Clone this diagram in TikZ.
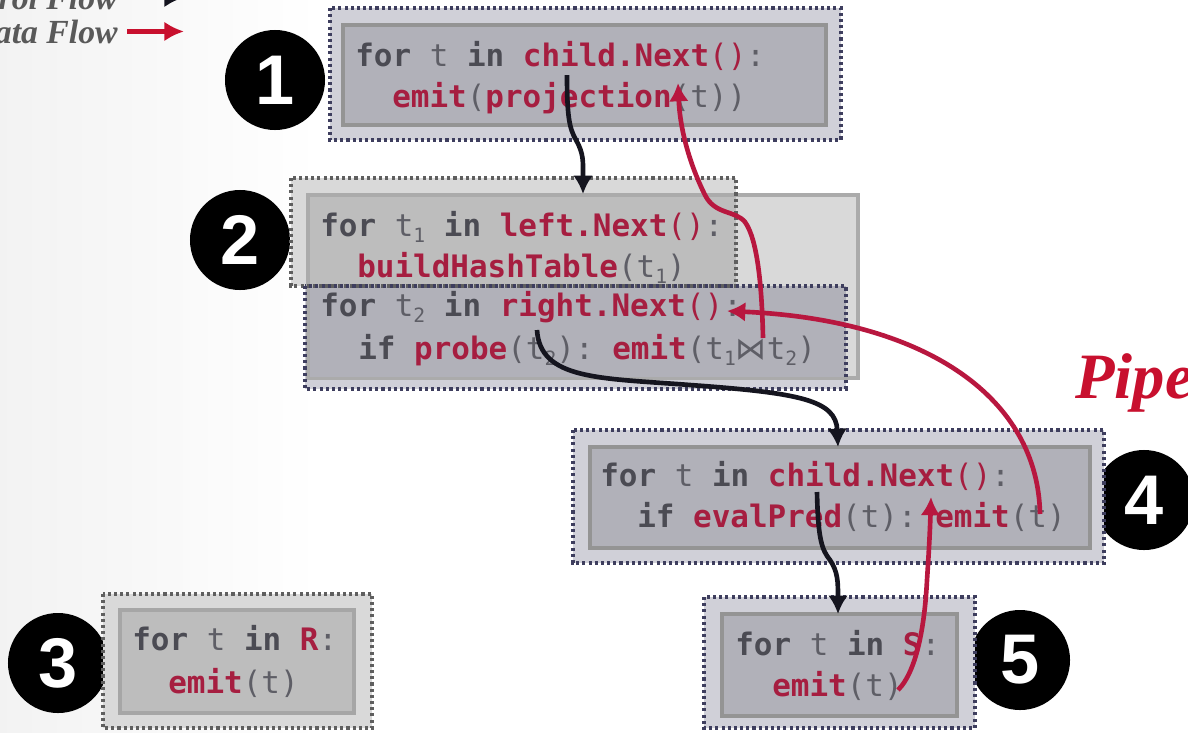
\documentclass[tikz,border=0pt]{standalone}
\usepackage{fontspec}
\setmonofont{DejaVu Sans Mono}
\newfontfamily\digitfont{Liberation Sans}
\newfontfamily\symfont{DejaVu Sans}
\newfontfamily\slidefont{Liberation Serif}
\usetikzlibrary{arrows.meta}

\definecolor{kwgray}{HTML}{4B4B53}
\definecolor{vargray}{HTML}{5E5E66}
\definecolor{fnred}{HTML}{A61E40}
\definecolor{flowred}{HTML}{B8173F}
\definecolor{flowblack}{HTML}{15151F}
\definecolor{legred}{HTML}{C8102E}
\definecolor{lavout}{HTML}{D0D0D8}
\definecolor{lavin}{HTML}{B1B1B9}
\definecolor{grayout}{HTML}{D9D9D9}
\definecolor{grayin}{HTML}{BDBDBD}
\definecolor{navydot}{HTML}{3E3E5E}
\definecolor{graydot}{HTML}{5F5F5F}

\newcommand\cKw[1]{{\bfseries\color{kwgray}#1}}
\newcommand\cFn[1]{{\bfseries\color{fnred}#1}}
\newcommand\cRd[1]{{\color{fnred}#1}}
\newcommand\cSub[1]{\raisebox{-0.4ex}{\fontsize{14}{14}\selectfont#1}}

\tikzset{
  code/.style={anchor=base west, inner sep=0pt, text=vargray,
    font=\ttfamily\fontsize{22}{22}\selectfont},
  numdot/.style={circle, fill=black, text=white, minimum size=2.5cm, inner sep=0pt,
    font=\digitfont\bfseries\fontsize{50}{50}\selectfont},
  dotline/.style={line width=2.2pt, dash pattern=on 2.2pt off 2.2pt},
  innerlav/.style={fill=lavin, draw=black!42, line width=2.8pt},
  innergray/.style={fill=grayin, draw=black!35, line width=2.8pt},
  legend/.style={anchor=base east, inner sep=0pt, text=black!65,
    font=\slidefont\bfseries\itshape\fontsize{24}{24}\selectfont},
  ctrl/.style={flowblack, line width=3.3pt, -{Latex[length=13pt,width=14pt]}},
  data/.style={flowred, line width=3.3pt, -{Latex[length=13pt,width=14pt]}}
}

\begin{document}
\begin{tikzpicture}[x=0.025cm, y=-0.025cm]
  \useasboundingbox (0,0) rectangle (1188,732);
  \clip (0,0) rectangle (1188,732);
  \shade[left color=black!5, right color=white] (0,0) rectangle (320,732);

  % legend
  \node[legend] (ctrl) at (118,9) {Control Flow};
  \node[legend] (data) at (118,43) {Data Flow};
  \draw[flowblack, line width=4.2pt, -{Latex[length=14pt,width=14pt]}] (ctrl.east) ++(9,0) -- ++(57,0);
  \draw[legred, line width=4.2pt, -{Latex[length=14pt,width=14pt]}] (data.east) ++(9,0) -- ++(57,0);

  % operator numbers
  \node[numdot] (n1) at (275,80) {1};
  \node[numdot] (n2) at (240,240) {2};
  \node[numdot] (n3) at (58,663) {3};
  \node[numdot] (n4) at (1144,500) {4};
  \node[numdot] (n5) at (1020,660) {5};

  % projection
  \fill[lavout] (330,8) rectangle (841,140);
  \draw[navydot, dotline] (330,8) rectangle (841,140);
  \draw[innerlav] (343,25) rectangle (826,125);

  % hash join
  \fill[grayout] (291,178) rectangle (736,286);
  \fill[lavout] (305,286) rectangle (846,389);
  \draw[fill=grayout, draw=black!33, line width=2.8pt] (308,195) rectangle (858,378);
  \fill[grayin] (309.5,196.5) rectangle (736,286);
  \fill[lavin] (309.5,286) rectangle (846,376.5);
  \draw[graydot, dotline] (291,178) rectangle (736,286);
  \draw[navydot, dotline] (305,286) rectangle (846,389);

  % scan R
  \fill[grayout] (103,594) rectangle (372,728);
  \draw[graydot, dotline] (103,594) rectangle (372,728);
  \draw[innergray] (120,610) rectangle (354,713);

  % selection
  \fill[lavout] (573,430) rectangle (1104,563);
  \draw[navydot, dotline] (573,430) rectangle (1104,563);
  \draw[innerlav] (590,447) rectangle (1090,548);

  % scan S
  \fill[lavout] (704,597) rectangle (975,728);
  \draw[navydot, dotline] (704,597) rectangle (975,728);
  \draw[innerlav] (722,614) rectangle (957,716);

  % code
  \node[code] (c1a) at (355,66) {\cKw{for} t \cKw{in} \cFn{child.Next}\cRd{()}:};
  \node[code] (c1b) at (392,107) {\cFn{emit}(\cFn{projection}(t))};
  \node[code] (c2a) at (320,236) {\cKw{for} t\cSub{1} \cKw{in} \cFn{left.Next}\cRd{()}:};
  \node[code] (c2b) at (357,277) {\cFn{buildHashTable}(t\cSub{1})};
  \node[code] (c2c) at (320,316) {\cKw{for} t\cSub{2} \cKw{in} \cFn{right.Next}\cRd{()}:};
  \node[code] (c2d) at (358,359) {\cKw{if} \cFn{probe}(t\cSub{2}): \cFn{emit}(t\cSub{1}{\symfont ⋈}t\cSub{2})};
  \node[code] (c3a) at (132,650) {\cKw{for} t \cKw{in} \cFn{R}:};
  \node[code] (c3b) at (168,693) {\cFn{emit}(t)};
  \node[code] (c4a) at (600,486) {\cKw{for} t \cKw{in} \cFn{child.Next}\cRd{()}:};
  \node[code] (c4b) at (637,527) {\cKw{if} \cFn{evalPred}(t): \cFn{emit}(t)};
  \node[code] (c5a) at (735,655) {\cKw{for} t \cKw{in} \cFn{S}:};
  \node[code] (c5b) at (772,696) {\cFn{emit}(t)};

  \node[anchor=base west, inner sep=0pt, text=legred,
    font=\slidefont\bfseries\itshape\fontsize{46}{46}\selectfont] (pipe) at (1075,398) {Pipeline};

  % connector ends
  \coordinate (p1 in) at (678,83);
  \coordinate (p1 out) at (567,75);
  \coordinate (j in) at (583,194);
  \coordinate (j right) at (727,311);
  \coordinate (j probe) at (537,330);
  \coordinate (j emit) at (763,338);
  \coordinate (s top) at (838,447);
  \coordinate (s in) at (931,497);
  \coordinate (s out) at (817,492);
  \coordinate (s emit) at (1040,514);
  \coordinate (S top) at (838,614);
  \coordinate (S emit) at (898,690);

  % control flow
  \draw[ctrl] (p1 out) .. controls (567,115) and (569,128) .. (576,140)
    .. controls (584,154) and (583,162) .. (j in);
  \draw[ctrl] (j probe) .. controls (540,380) and (600,378) .. (690,385)
    .. controls (800,393) and (836,400) .. (s top);
  \draw[ctrl] (s out) .. controls (818,540) and (822,550) .. (830,560)
    .. controls (838,572) and (838,582) .. (S top);

  % data flow
  \draw[data] (S emit) .. controls (918,670) and (925,620) .. (927,580)
    .. controls (929,550) and (930,530) .. (s in);
  \draw[data] (s emit) .. controls (1038,400) and (930,320) .. (j right);
  \draw[data] (j emit) .. controls (762,290) and (758,240) .. (745,222)
    .. controls (735,210) and (715,215) .. (705,195)
    .. controls (690,165) and (680,130) .. (p1 in);
\end{tikzpicture}
\end{document}
